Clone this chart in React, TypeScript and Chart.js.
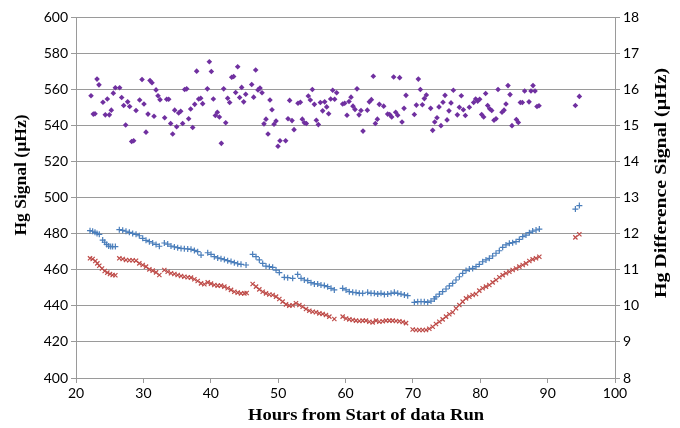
import React, { useEffect, useRef } from "react";
import { Chart, registerables } from "chart.js";

Chart.register(...registerables);

// Blue series (Hg Signal, left axis)
const blueHours = [
  22.08, 22.47, 22.82, 23.12, 23.46, 23.96, 24.26, 24.55, 24.85, 25.15, 25.44, 25.84,
  26.43, 26.93, 27.42, 27.92, 28.41, 28.91, 29.4, 29.9, 30.39, 30.89, 31.38, 31.88, 32.37,
  33.11, 33.61, 34.1, 34.6, 35.09, 35.59, 36.08, 36.58, 37.07, 37.57, 38.06, 38.56,
  39.55, 40.04, 40.53, 41.03, 41.52, 42.02, 42.51, 43.01, 43.5, 44.0, 44.49, 45.24,
  46.22, 46.72, 47.21, 47.71, 48.2, 48.7, 49.19, 49.69, 50.18,
  50.92, 51.42, 52.16,
  52.9, 53.4, 53.89, 54.39, 54.88, 55.38, 55.87, 56.36, 56.86, 57.35, 57.85, 58.34,
  59.58, 60.08, 60.57, 61.07, 61.56, 62.05, 62.55,
  63.29, 63.79, 64.28, 64.78, 65.27, 65.77, 66.26, 66.76, 67.25, 67.75, 68.24, 68.74, 69.23,
  70.22, 70.72, 71.21, 71.7, 72.2, 72.69, 73.19,
  73.43, 73.93, 74.42, 74.92, 75.41, 75.91, 76.4, 76.9, 77.39, 77.89, 78.38, 78.87, 79.37, 79.86,
  80.36, 80.85, 81.35, 81.84, 82.34, 82.83, 83.33, 83.82, 84.32, 84.81, 85.31, 85.8, 86.3, 86.79,
  87.29, 87.78, 88.28, 88.77,
  94.12, 94.71,
];
const blueValues = [
  481.6, 481.3, 480.7, 480.1, 479.6, 476.4, 475.2, 474.0, 473.1, 472.8, 472.8, 472.8,
  482.2, 481.8, 481.3, 480.7, 480.1, 479.6, 478.8, 477.4, 476.3, 475.5, 474.8, 474.0, 473.0,
  474.8, 474.2, 473.1, 472.6, 472.2, 471.8, 471.6, 471.5, 471.3, 470.7, 470.0, 468.1,
  469.4, 468.5, 467.2, 466.5, 466.1, 465.6, 465.0, 464.5, 463.9, 463.3, 463.0, 462.6,
  468.5, 467.2, 465.4, 463.5, 462.0, 461.7, 461.3, 459.8, 458.4,
  455.8, 455.6, 455.2,
  457.4, 455.2, 454.3, 453.9, 452.8, 452.1, 452.1, 451.5, 451.2, 450.6, 449.7, 448.8,
  449.7, 448.8, 447.8, 447.5, 447.3, 446.9, 446.9,
  447.5, 446.9, 446.9, 446.5, 446.9, 446.3, 446.5, 446.9, 447.5, 446.9, 446.5, 446.0, 445.6,
  441.9, 442.3, 442.3, 442.3, 441.9, 442.6, 443.8,
  445.0, 446.5, 447.8, 449.3, 451.0, 452.4, 454.3, 456.1, 458.0, 459.5, 460.4, 460.7, 461.7, 463.0,
  464.4, 465.4, 466.3, 467.6, 469.1, 470.5, 472.4, 473.7, 474.6, 475.0, 475.5, 476.8, 478.3, 479.2,
  480.5, 481.4, 482.0, 482.5,
  493.6, 495.5,
];

// Red series (Hg Signal, left axis)
const redHours = [
  22.08, 22.47, 22.87, 23.17, 23.46, 23.86, 24.26, 24.65, 25.05, 25.44, 25.84,
  26.43, 26.93, 27.42, 27.92, 28.41, 28.91, 29.4, 29.9, 30.39, 30.89, 31.38, 31.88, 32.37,
  33.11, 33.61, 34.1, 34.6, 35.09, 35.59, 36.08, 36.58, 37.07, 37.57, 38.06, 38.56, 39.05,
  39.55, 40.04, 40.53, 41.03, 41.52, 42.02, 42.51, 43.01, 43.5, 44.0, 44.49, 44.99, 45.33,
  46.22, 46.72, 47.21, 47.71, 48.2, 48.7, 49.19, 49.69, 50.18, 50.67, 51.17, 51.66, 52.16,
  52.65, 53.15, 53.64, 54.14, 54.63, 55.13, 55.62, 56.12, 56.61, 57.1, 57.6, 58.34,
  59.58, 60.08, 60.57, 61.07, 61.56, 62.05, 62.55, 63.04, 63.54, 64.03, 64.53, 65.02, 65.52,
  66.01, 66.51, 67.0, 67.5, 67.99, 68.49, 68.98,
  69.97, 70.47, 70.96, 71.46, 71.95, 72.44, 72.94,
  73.43, 73.93, 74.42, 74.92, 75.41, 75.91, 76.4, 76.9, 77.39, 77.89, 78.38, 78.87, 79.37, 79.86,
  80.36, 80.85, 81.35, 81.84, 82.34, 82.83, 83.33, 83.82, 84.32, 84.81, 85.31, 85.8, 86.3, 86.79,
  87.29, 87.78, 88.28, 88.77,
  94.12, 94.71,
];
const redValues = [
  466.3, 465.9, 464.8, 463.5, 462.2, 460.7, 459.3, 458.4, 457.6, 457.1, 456.9,
  466.3, 465.9, 465.4, 465.2, 465.2, 465.0, 463.5, 462.6, 461.7, 460.2, 459.5, 458.5, 457.1,
  459.8, 458.9, 458.0, 457.6, 457.1, 456.5, 456.1, 455.8, 455.6, 454.7, 453.7, 452.4, 451.9,
  453.0, 452.3, 451.5, 451.2, 451.2, 450.6, 449.7, 448.8, 447.8, 447.3, 446.9, 446.9, 447.1,
  452.1, 450.6, 449.1, 447.8, 446.9, 446.3, 446.0, 445.1, 443.8, 442.3, 440.8, 440.1, 440.3,
  441.4, 440.4, 439.5, 438.2, 437.3, 436.7, 436.4, 435.8, 435.5, 434.9, 434.0, 432.7,
  434.0, 433.0, 432.5, 432.1, 431.8, 431.6, 431.8, 431.8, 431.2, 430.8, 431.8, 431.2, 431.4,
  431.8, 431.8, 431.8, 431.6, 431.4, 431.0, 430.4,
  426.9, 426.6, 426.6, 426.6, 426.6, 427.3, 428.4,
  429.9, 431.2, 432.5, 434.0, 435.3, 436.4, 438.6, 440.4, 442.3, 444.1, 445.0, 446.0, 446.5, 448.4,
  449.7, 450.6, 451.5, 453.0, 454.3, 455.8, 457.0, 458.0, 458.9, 459.8, 460.7, 461.7, 462.6, 463.5,
  464.8, 465.7, 466.3, 467.2,
  477.9, 479.6,
];

// Purple series (Hg Difference Signal, right axis)
const purpleHours = [
  22.23, 22.57, 22.82, 23.12, 23.41, 24.0, 24.35, 24.65, 24.95, 25.24, 25.54, 25.84, 26.48, 26.78,
  27.08, 27.37, 27.67, 27.97, 28.26, 28.56, 28.91, 29.45, 29.8, 30.09, 30.39, 30.69, 30.98, 31.28,
  31.58, 31.88, 32.17, 32.47, 33.16, 33.46, 33.76, 34.05, 34.35, 34.65, 34.94, 35.24, 35.54, 35.83,
  36.13, 36.43, 36.72, 37.02, 37.32, 37.62, 37.91, 38.21, 38.51, 38.8, 39.5, 39.79, 40.09, 40.39,
  40.68, 40.98, 41.28, 41.57, 41.92, 42.22, 42.51, 42.81, 43.11, 43.4, 43.7, 44.0, 44.29, 44.59,
  44.89, 45.19, 46.08, 46.37, 46.67,
  47.01, 47.31, 47.61, 47.9, 48.2, 48.5, 48.79, 49.09, 49.39, 49.69, 49.98, 50.28, 51.12, 51.47,
  51.71, 52.06, 52.36, 52.95, 53.3, 53.59, 53.89, 54.19, 54.48, 54.78, 55.08, 55.38, 55.67, 55.97,
  56.27, 56.61, 56.91, 57.21, 57.5, 57.8, 58.1, 58.39, 58.69, 59.58, 59.88, 60.22, 60.52, 60.82,
  61.11, 61.41, 61.71, 62.01, 62.3, 62.6, 63.24, 63.54, 63.84, 64.13, 64.43, 64.73, 65.02, 65.67,
  66.26, 66.56, 66.86, 67.15, 67.45, 67.75, 68.04, 68.39, 68.69, 68.98, 70.22, 70.52, 70.81, 71.11,
  71.41, 71.7, 72.0, 72.64, 72.94, 73.24,
  73.58, 73.88, 74.17, 74.47, 74.77, 75.07, 75.36, 75.66, 76.01, 76.6, 76.9, 77.19, 77.49, 77.79,
  78.38, 79.02, 79.32, 79.62, 79.91, 80.21, 80.51, 80.8, 81.1, 81.4, 81.7, 82.04, 82.34, 82.64,
  83.23, 83.53, 83.82, 84.12, 84.42, 84.71, 85.36, 85.65, 85.95, 86.25, 86.59, 87.24, 87.53, 87.83,
  88.13, 88.42, 88.72, 94.12, 94.71,
];
const purpleValues = [
  15.82, 15.31, 15.32, 16.28, 16.12, 15.64, 15.29, 15.73, 15.29, 15.42, 15.89, 16.04, 16.04, 15.77,
  15.55, 15.01, 15.65, 15.52, 14.55, 14.57, 15.41, 15.7, 16.27, 15.59, 14.81, 15.31, 16.24, 16.18,
  15.25, 15.98, 15.82, 15.71, 15.21, 15.72, 15.72, 15.05, 14.76, 15.42, 14.96, 15.34, 15.39, 15.05,
  15.99, 16.01, 15.18, 15.45, 14.94, 15.58, 16.5, 15.73, 15.75, 15.6, 16.01, 16.76, 16.49, 15.73,
  15.27, 15.36, 15.23, 14.5, 16.01, 15.07, 15.75, 15.63, 16.33, 16.35, 15.91, 16.62, 15.77, 16.05,
  15.65, 15.86, 16.13, 15.78, 16.53,
  15.98, 16.03, 15.9, 15.04, 15.17, 14.76, 15.7, 15.43, 15.03, 15.12, 14.42, 14.57, 14.57, 15.18,
  15.69, 15.13, 14.88, 15.61, 15.64, 15.17, 15.07, 15.05, 15.81, 15.7, 15.99, 15.58, 15.14, 15.02,
  15.63, 15.4, 15.65, 15.51, 15.32, 15.73, 15.97, 15.72, 15.9, 15.59, 15.61, 15.28, 15.66, 15.78,
  15.53, 15.44, 16.01, 15.29, 15.41, 14.84, 15.42, 15.65, 15.71, 16.36, 15.05, 15.17, 15.58, 15.53,
  15.31, 15.3, 15.23, 16.34, 15.36, 15.28, 16.32, 15.09, 15.47, 15.83, 15.3, 15.56, 16.28, 15.99,
  15.57, 15.74, 15.84, 15.47, 14.86, 15.09,
  15.21, 15.51, 14.99, 15.64, 15.83, 15.15, 15.4, 15.62, 15.97, 15.29, 15.5, 15.82, 15.43, 15.27,
  15.5, 15.63, 15.73, 15.67, 15.72, 15.3, 15.23, 15.88, 15.55, 15.46, 15.41, 15.14, 15.18, 15.99,
  15.36, 15.42, 15.59, 16.1, 15.85, 14.99, 15.16, 15.08, 15.63, 15.63, 15.95, 15.65, 15.95, 16.1,
  15.95, 15.52, 15.54, 15.55, 15.8,
];

const xTitle = "Hours from Start of data Run";
const yLeftTitle = "Hg Signal (µHz)";
const yRightTitle = "Hg Difference Signal (µHz)";

const toPoints = (xs: number[], ys: number[]) => xs.map((x, i) => ({ x, y: ys[i] }));

function drawTitle(ctx: CanvasRenderingContext2D, text: string, cx: number, cy: number, rot: number, targetW: number) {
  ctx.save();
  ctx.translate(cx, cy);
  if (rot) ctx.rotate(rot);
  const w = ctx.measureText(text).width;
  const sx = w > 0 ? targetW / w : 1;
  ctx.scale(sx, 1);
  ctx.fillText(text, 0, 0);
  ctx.restore();
}

const titlesPlugin = {
  id: "customTitles",
  afterDraw(chart: any) {
    const ctx = chart.ctx;
    ctx.save();
    ctx.fillStyle = "#000";
    ctx.font = "bold 16px 'Liberation Serif', 'Times New Roman', serif";
    ctx.textAlign = "center";
    ctx.textBaseline = "middle";
    drawTitle(ctx, xTitle, 366, 416, 0, 236);
    drawTitle(ctx, yLeftTitle, 22, 175, -Math.PI / 2, 121);
    drawTitle(ctx, yRightTitle, 662, 183, -Math.PI / 2, 230);
    ctx.restore();
  },
};

export default function App() {
  const ref = useRef<HTMLCanvasElement | null>(null);
  useEffect(() => {
    if (!ref.current) return;
    const tickFont = { family: "Lato, 'Open Sans', sans-serif", size: 14 };
    const gridColor = "#9a9a9a";
    const chart = new Chart(ref.current, {
      type: "scatter",
      data: {
        datasets: [
          {
            label: "Blue",
            data: toPoints(blueHours, blueValues),
            yAxisID: "y",
            pointStyle: "cross",
            radius: 3,
            borderColor: "#4a7ebb",
            backgroundColor: "#4a7ebb",
            borderWidth: 1.2,
          },
          {
            label: "Red",
            data: toPoints(redHours, redValues),
            yAxisID: "y",
            pointStyle: "crossRot",
            radius: 3,
            borderColor: "#be4b48",
            backgroundColor: "#be4b48",
            borderWidth: 1.2,
          },
          {
            label: "Purple",
            data: toPoints(purpleHours, purpleValues),
            yAxisID: "y1",
            pointStyle: "rectRot",
            radius: 2.8,
            borderWidth: 0,
            borderColor: "#7030a0",
            backgroundColor: "#7030a0",
          },
        ] as any,
      },
      plugins: [titlesPlugin],
      options: {
        animation: false,
        responsive: false,
        layout: { padding: { top: 17, left: 0, right: 0, bottom: 0 } },
        plugins: { legend: { display: false }, tooltip: { enabled: false } },
        scales: {
          x: {
            type: "linear",
            min: 20,
            max: 100,
            ticks: { stepSize: 10, font: tickFont, color: "#000", padding: 2 },
            grid: { drawOnChartArea: false, drawTicks: true, tickLength: 5, color: gridColor },
            border: { color: gridColor },
            afterFit: (s: any) => {
              s.height = 50;
            },
          },
          y: {
            position: "left",
            min: 400,
            max: 600,
            ticks: { stepSize: 20, font: tickFont, color: "#000", padding: 3 },
            grid: { color: gridColor, tickLength: 5 },
            border: { color: gridColor },
            afterFit: (s: any) => {
              s.width = 76;
            },
          },
          y1: {
            position: "right",
            min: 8,
            max: 18,
            ticks: { stepSize: 1, font: tickFont, color: "#000", padding: 3 },
            grid: { drawOnChartArea: false, tickLength: 5, color: gridColor },
            border: { color: gridColor },
            afterFit: (s: any) => {
              s.width = 65;
            },
          },
        },
      } as any,
    });
    return () => chart.destroy();
  }, []);
  return (
    <canvas
      ref={ref}
      width={680}
      height={428}
      style={{ position: "absolute", left: 0, top: 0, width: 680, height: 428 }}
    />
  );
}
